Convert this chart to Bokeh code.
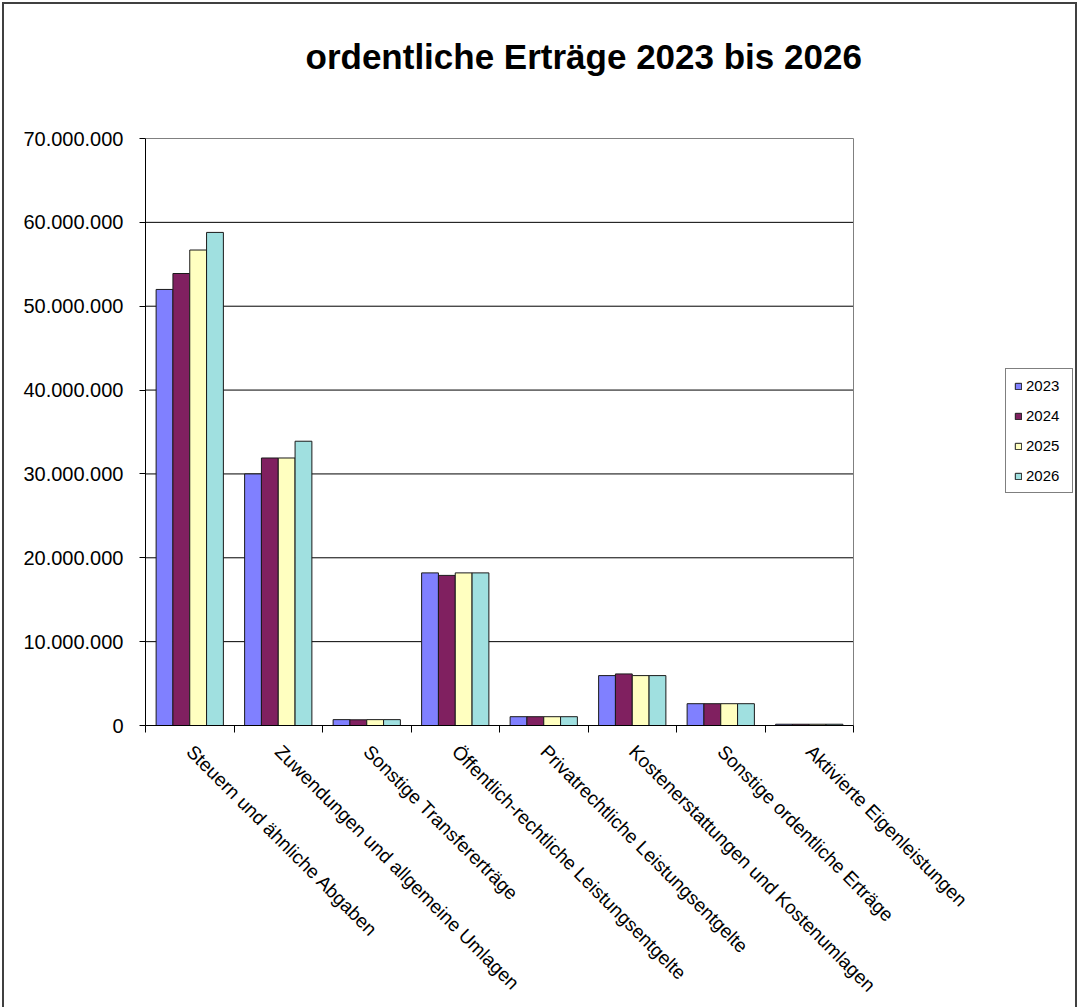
import math
from bokeh.plotting import figure
from bokeh.models import (ColumnDataSource, FixedTicker, Legend, LegendItem,
                          Range1d, Title)
from bokeh.transform import dodge
from bokeh.embed import file_html
from bokeh.resources import INLINE

categories = [
    "Steuern und ähnliche Abgaben",
    "Zuwendungen und allgemeine Umlagen",
    "Sonstige Transfererträge",
    "Öffentlich-rechtliche Leistungsentgelte",
    "Privatrechtliche Leistungsentgelte",
    "Kostenerstattungen und Kostenumlagen",
    "Sonstige ordentliche Erträge",
    "Aktivierte Eigenleistungen",
]
years = ["2023", "2024", "2025", "2026"]
v2023 = [52_000_000, 30_000_000, 700_000, 18_200_000, 1_050_000, 5_950_000, 2_600_000, 150_000]
v2024 = [53_900_000, 31_900_000, 680_000, 17_900_000, 1_050_000, 6_150_000, 2_600_000, 150_000]
v2025 = [56_700_000, 31_900_000, 700_000, 18_200_000, 1_050_000, 5_950_000, 2_600_000, 150_000]
v2026 = [58_800_000, 33_900_000, 700_000, 18_200_000, 1_050_000, 5_950_000, 2_600_000, 150_000]
y_ticks = [0, 10_000_000, 20_000_000, 30_000_000, 40_000_000, 50_000_000, 60_000_000, 70_000_000]
y_tick_labels = ["0", "10.000.000", "20.000.000", "30.000.000", "40.000.000",
                 "50.000.000", "60.000.000", "70.000.000"]
title_text = "ordentliche Erträge 2023 bis 2026"

colors = ["#8080FF", "#802060", "#FFFFC0", "#A0E0E0"]
FONT = "Liberation Sans"

# layout geometry (pixels)
W, H = 1079, 1007
LEFT, TOP, BOTTOM = 145, 137, 282
PLOT_W = 708                       # width of the drawn plot area
PLOT_H = H - TOP - BOTTOM          # frame height (1px above the 70 Mio line)

n = len(categories)
centers = [i + 0.5 for i in range(n)]
bounds = [float(i) for i in range(n + 1)]
src = ColumnDataSource(dict(xc=centers, y2023=v2023, y2024=v2024, y2025=v2025, y2026=v2026))

y_max = y_ticks[-1]
x_end = n * (W - LEFT) / PLOT_W          # frame extends to the right edge for the legend
y_end = y_max * PLOT_H / (PLOT_H - 1)    # 1px room for the plot-area border

p = figure(width=W, height=H, output_backend="svg", toolbar_location=None,
           x_range=Range1d(0, x_end), y_range=Range1d(0, y_end),
           min_border_left=LEFT, min_border_right=0, min_border_top=TOP,
           min_border_bottom=BOTTOM, title=None)
p.background_fill_color = None
p.border_fill_color = None
p.outline_line_color = None
p.styles = {"background-color": "white",
            "box-shadow": "inset 2px 2px 0 0 white, inset -2px 0 0 0 white, "
                          "inset 4px 4px 0 0 #404040, inset -4px 0 0 0 #404040"}

# spacer above frame, then the real title
p.add_layout(Title(text=" ", text_font_size="35px", text_font=FONT, standoff=16), "above")
p.add_layout(Title(text=title_text, align="left", offset=160, text_font_size="35px",
                   text_font=FONT, text_font_style="bold", text_color="black",
                   standoff=10), "above")

# horizontal grid lines and plot-area border
grid_vals = y_ticks[1:-1]
p.segment(x0=[0] * len(grid_vals), x1=[n] * len(grid_vals), y0=grid_vals, y1=grid_vals,
          line_color="black", line_width=1)
p.segment(x0=[0, n], x1=[n, n], y0=[y_max, 0], y1=[y_max, y_max],
          line_color="#808080", line_width=1)

bar_w = 0.19
offsets = [-1.5 * bar_w, -0.5 * bar_w, 0.5 * bar_w, 1.5 * bar_w]
items = []
for yr, col, off in zip(years, colors, offsets):
    r = p.vbar(x=dodge("xc", off, range=p.x_range), top="y" + yr, width=bar_w, bottom=0,
               source=src, fill_color=col, line_color="#1a1a1a", line_width=1)
    items.append(LegendItem(label=yr, renderers=[r]))

# axes
p.yaxis.ticker = FixedTicker(ticks=y_ticks)
p.yaxis.major_label_overrides = {t: s for t, s in zip(y_ticks, y_tick_labels)}
p.yaxis.major_label_text_font = FONT
p.yaxis.major_label_text_font_size = "20px"
p.yaxis.major_label_text_color = "black"
p.yaxis.axis_line_color = "black"
p.yaxis.bounds = (0, y_max)
p.yaxis.major_tick_line_color = "black"
p.yaxis.major_tick_out = 6
p.yaxis.major_tick_in = 0
p.yaxis.minor_tick_line_color = None
p.yaxis.major_label_standoff = 16

p.xaxis.ticker = FixedTicker(ticks=centers, minor_ticks=bounds)
p.xaxis.bounds = (0, n)
p.xaxis.major_label_overrides = {c: s for c, s in zip(centers, categories)}
p.xaxis.major_label_orientation = -math.pi / 4
p.xaxis.major_label_text_font = FONT
p.xaxis.major_label_text_font_size = "19px"
p.xaxis.major_label_text_color = "black"
p.xaxis.axis_line_color = "black"
p.xaxis.major_tick_line_color = None
p.xaxis.major_tick_out = 0
p.xaxis.major_tick_in = 0
p.xaxis.minor_tick_line_color = "black"
p.xaxis.minor_tick_out = 7
p.xaxis.minor_tick_in = 0
p.xaxis.major_label_standoff = 16

p.xgrid.grid_line_color = None
p.ygrid.grid_line_color = None

legend = Legend(items=items, location=(860, 232), orientation="vertical",
                label_text_font=FONT, label_text_font_size="15px", label_text_color="black",
                glyph_width=8, glyph_height=8, label_height=14, spacing=13, padding=8,
                label_standoff=4, label_width=38, border_line_color="black",
                border_line_width=1, background_fill_color="white", background_fill_alpha=1,
                margin=0)
p.add_layout(legend, "center")

open("out.html", "w").write(file_html(p, INLINE))
